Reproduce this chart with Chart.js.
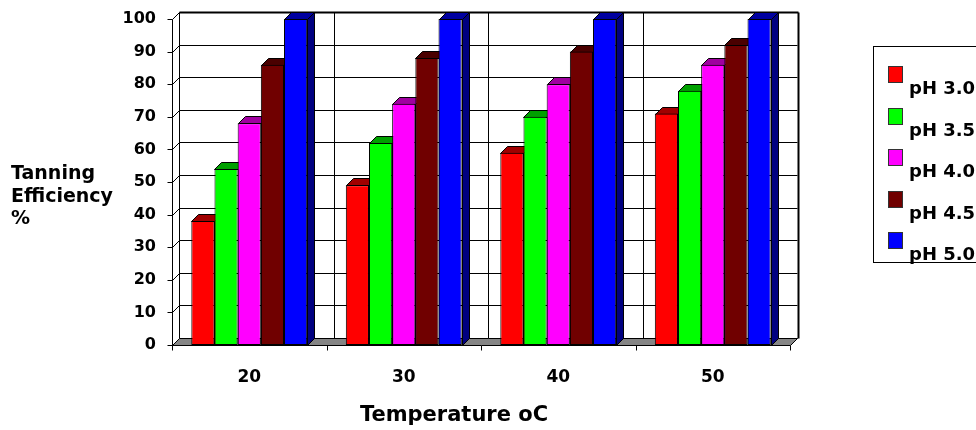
<!DOCTYPE html>
<html>
<head>
<meta charset="utf-8">
<script src="https://cdn.jsdelivr.net/npm/chart.js@4.4.0/dist/chart.umd.min.js"></script>
<style>
  body { margin: 0; background: #fff; }
</style>
</head>
<body>
<canvas id="myChart" width="976" height="430"></canvas>
<script>
/* ------------------------------ data ------------------------------ */

let temps = ['20', '30', '40', '50']
let phLabels = ['pH 3.0', 'pH 3.5', 'pH 4.0', 'pH 4.5', 'pH 5.0']

let ph30 = [38, 49, 59, 71]
let ph35 = [54, 62, 70, 78]
let ph40 = [68, 74, 80, 86]
let ph45 = [86, 88, 90, 92]
let ph50 = [100, 100, 100, 100]

let yTicks = [0, 10, 20, 30, 40, 50, 60, 70, 80, 90, 100]

let yTitle = ['Tanning', 'Efficiency', '%']
let xTitle = 'Temperature oC'

/* ------------------------------ style ----------------------------- */

let fam = '"DejaVu Sans", sans-serif'
let D = 7 // depth of the fake 3d

let frontColors = ['#ff0000', '#00ff00', '#ff00ff', '#700000', '#0000ff']
let topColors = ['#a00000', '#00a000', '#a000a0', '#4a0000', '#0000a0']
let sideColors = ['#800000', '#008000', '#800080', '#3a0000', '#000080']

function line(ctx, x1, y1, x2, y2) {
    ctx.beginPath()
    ctx.moveTo(x1, y1)
    ctx.lineTo(x2, y2)
    ctx.stroke()
}

function poly(ctx, pts, fill) {
    ctx.beginPath()
    ctx.moveTo(pts[0][0], pts[0][1])
    for (let i = 1; i < pts.length; i++) ctx.lineTo(pts[i][0], pts[i][1])
    ctx.closePath()
    ctx.fillStyle = fill
    ctx.fill()
    ctx.stroke()
}

// walls, floor and the top / side faces of every bar
let walls3d = {
    id: 'walls3d',
    beforeDatasetsDraw(chart) {
        let ctx = chart.ctx
        let a = chart.chartArea
        let xs = chart.scales.x
        let ys = chart.scales.y
        let L = Math.round(a.left) + 0.5
        let R = Math.round(a.right) + 0.5
        let T = Math.round(a.top) + 0.5
        let B = Math.round(a.bottom) + 0.5

        ctx.save()
        ctx.strokeStyle = '#000'
        ctx.lineWidth = 1

        // back wall + left side lines
        yTicks.forEach(v => {
            let y = Math.round(ys.getPixelForValue(v)) + 0.5
            line(ctx, L + D, y - D, R + D, y - D)
            line(ctx, L, y, L + D, y - D)
            line(ctx, L - 5, y, L, y)
        })
        line(ctx, L, T, L, B)
        line(ctx, L + D, T - D, L + D, B - D)

        // category dividers on the back wall and ticks under the floor
        let bounds = [a.left]
        for (let i = 1; i < temps.length; i++) {
            bounds.push((xs.getPixelForValue(i - 1) + xs.getPixelForValue(i)) / 2)
        }
        bounds.push(a.right)
        bounds.forEach((bx, i) => {
            let x = Math.round(bx) + 0.5
            if (i > 0 && i < bounds.length - 1) line(ctx, x + D, T - D, x + D, B - D)
            line(ctx, x, B, x, B + 5)
        })

        ctx.lineWidth = 2
        line(ctx, L + D, T - D, R + D + 1, T - D)
        line(ctx, R + D + 1, T - D, R + D + 1, B - D)
        ctx.lineWidth = 1

        // floor
        poly(ctx, [[L, B], [R, B], [R + D, B - D], [L + D, B - D]], '#858585')

        // bar tops and sides
        chart.data.datasets.forEach((ds, d) => {
            let meta = chart.getDatasetMeta(d)
            meta.data.forEach(bar => {
                let x0 = Math.round(bar.x - bar.width / 2) + 0.5
                let x1 = Math.round(bar.x + bar.width / 2) + 0.5
                let y = Math.round(bar.y) + 0.5
                let base = Math.round(bar.base) + 0.5
                poly(ctx, [[x1, y], [x1 + D, y - D], [x1 + D, base - D], [x1, base]], sideColors[d])
                poly(ctx, [[x0, y], [x0 + D, y - D], [x1 + D, y - D], [x1, y]], topColors[d])
            })
        })
        ctx.restore()
    },
    afterDraw(chart) {
        let ctx = chart.ctx
        ctx.save()
        ctx.fillStyle = '#000'
        ctx.textAlign = 'left'
        ctx.textBaseline = 'alphabetic'

        // y title, horizontal on three lines
        ctx.font = 'bold 19px ' + fam
        let baselines = [179, 202, 224]
        yTitle.forEach((t, i) => ctx.fillText(t, 11, baselines[i]))

        // x title
        ctx.font = 'bold 21px ' + fam
        ctx.textAlign = 'center'
        ctx.fillText(xTitle, 454, 421)

        // legend
        ctx.strokeStyle = '#000'
        ctx.lineWidth = 1
        ctx.strokeRect(873.5, 46.5, 130, 216)
        ctx.font = 'bold 18px ' + fam
        ctx.textAlign = 'left'
        ctx.textBaseline = 'middle'
        phLabels.forEach((lab, i) => {
            let y = 66 + Math.round(41.5 * i)
            ctx.fillStyle = frontColors[i]
            ctx.fillRect(888, y, 14, 16)
            ctx.strokeStyle = '#333'
            ctx.strokeRect(888.5, y + 0.5, 14, 16)
            ctx.fillStyle = '#000'
            ctx.fillText(lab, 909, y + 23)
        })
        ctx.restore()
    }
}

/* ------------------------------ chart ----------------------------- */

let myChart = document.querySelector('#myChart')
let seriesValues = [ph30, ph35, ph40, ph45, ph50]

new Chart(myChart, {
    type: 'bar',
    data: {
        labels: temps,
        datasets: seriesValues.map((vals, i) => ({
            label: phLabels[i],
            data: vals,
            backgroundColor: frontColors[i],
            borderColor: '#000',
            borderWidth: 1,
            borderSkipped: false,
            categoryPercentage: 0.75,
            barPercentage: 1,
            clip: false
        }))
    },
    options: {
        responsive: false,
        devicePixelRatio: 1,
        animation: false,
        layout: { padding: { left: 0, right: 186, top: 19, bottom: 0 } },
        plugins: {
            legend: { display: false },
            tooltip: { enabled: false }
        },
        scales: {
            x: {
                grid: { display: false, drawTicks: false },
                border: { display: false },
                ticks: { color: '#000', font: { family: fam, size: 17, weight: 'bold' }, padding: 22 },
                afterFit(scale) { scale.height = 85 }
            },
            y: {
                min: 0,
                max: 100,
                grid: { display: false, drawTicks: false },
                border: { display: false },
                ticks: { stepSize: 10, color: '#000', font: { family: fam, size: 16, weight: 'bold' }, padding: 16 },
                afterFit(scale) {
                    scale.width = 172
                    scale.paddingTop = 0
                    scale.paddingBottom = 0
                }
            }
        }
    },
    plugins: [walls3d]
})
</script>
</body>
</html>
